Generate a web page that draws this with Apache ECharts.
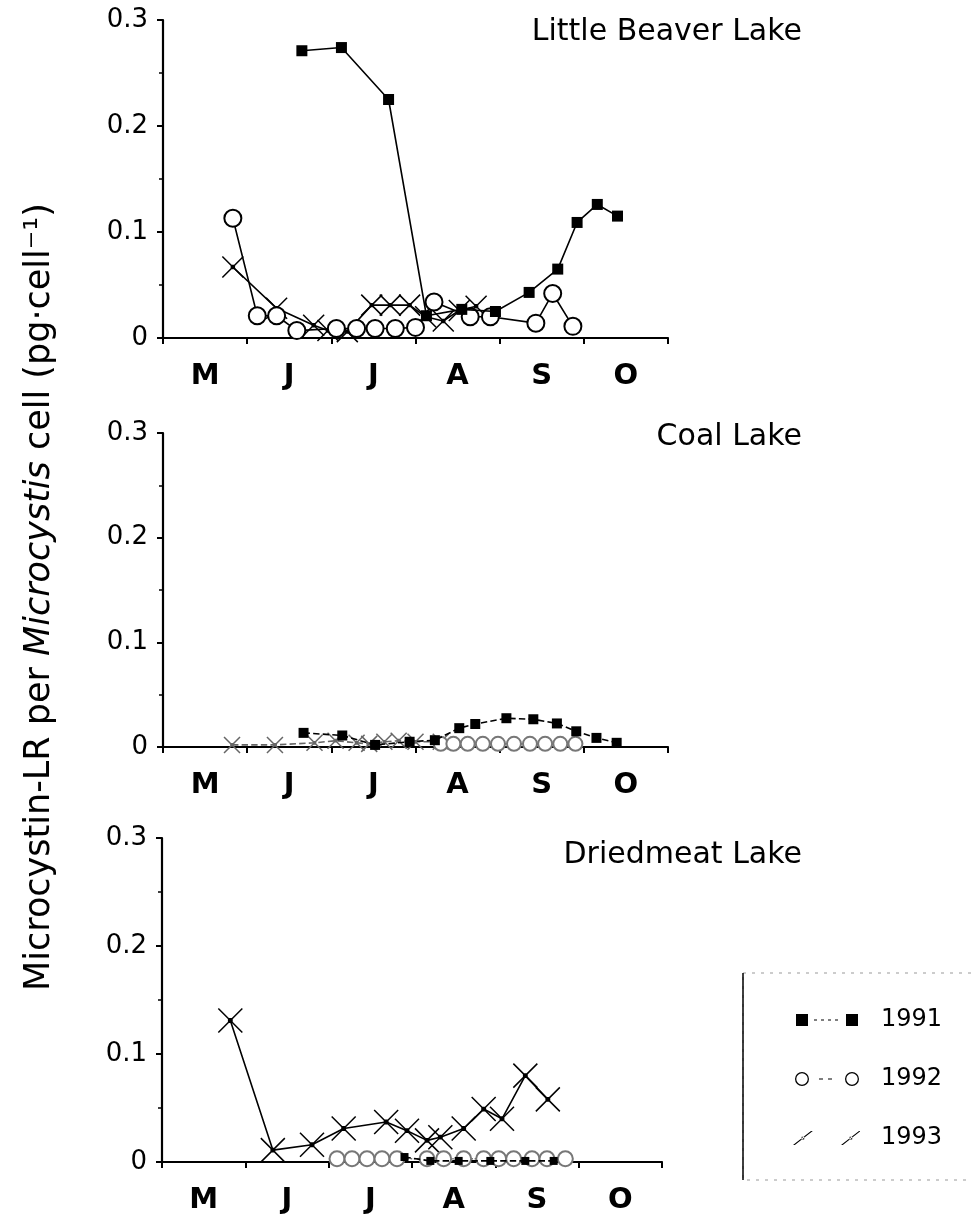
<!DOCTYPE html>
<html>
<head>
<meta charset="utf-8">
<title>Microcystin-LR per Microcystis cell</title>
<script src="https://cdn.jsdelivr.net/npm/echarts@6/dist/echarts.min.js"></script>
<style>
  html, body { margin: 0; padding: 0; background: #fff; }
  #chart { width: 972px; height: 1215px; }
</style>
</head>
<body>
<div id="chart"></div>
<script>
// Month initials, May through October; x values are months elapsed since 1 May.
const monthLabels = ['M', 'J', 'J', 'A', 'S', 'O'];
const lakeNames = ['Little Beaver Lake', 'Coal Lake', 'Driedmeat Lake'];
const yearNames = ['1991', '1992', '1993'];

// Little Beaver Lake, pg per cell
const beaver1991 = [[1.65,0.271],[2.12,0.274],[2.68,0.225],[3.13,0.021],[3.55,0.027],[3.95,0.025],[4.35,0.043],[4.69,0.065],[4.92,0.109],[5.16,0.126],[5.40,0.115]];
const beaver1992 = [[0.83,0.113],[1.12,0.021],[1.35,0.021],[1.59,0.007],[2.06,0.009],[2.30,0.009],[2.52,0.009],[2.76,0.009],[3.00,0.010],[3.22,0.034],[3.65,0.020],[3.89,0.020],[4.43,0.014],[4.63,0.042],[4.87,0.011]];
const beaver1993 = [[0.83,0.067],[1.35,0.028],[1.79,0.012],[1.96,0.007],[2.19,0.006],[2.48,0.031],[2.70,0.031],[2.93,0.031],[3.12,0.020],[3.33,0.016],[3.52,0.026],[3.72,0.030]];

// Coal Lake
const coal1991 = [[1.67,0.0135],[2.13,0.011],[2.52,0.002],[2.93,0.005],[3.23,0.0065],[3.52,0.018],[3.71,0.022],[4.08,0.0275],[4.40,0.0265],[4.68,0.0225],[4.91,0.015],[5.15,0.0087],[5.39,0.004]];
const coal1992 = [[3.30,0.003],[3.45,0.003],[3.62,0.003],[3.80,0.003],[3.98,0.003],[4.17,0.003],[4.36,0.003],[4.54,0.003],[4.72,0.003],[4.90,0.003]];
const coal1993 = [[0.82,0.002],[1.33,0.002],[1.80,0.004],[2.05,0.006],[2.30,0.004],[2.45,0.003],[2.63,0.005],[2.80,0.006],[3.00,0.005],[3.30,0.005]];

// Driedmeat Lake
const dried1991 = [[2.91,0.0046],[3.22,0.001],[3.56,0.001],[3.94,0.001],[4.36,0.001],[4.70,0.001]];
const dried1992 = [[2.10,0.003],[2.28,0.003],[2.46,0.003],[2.64,0.003],[2.82,0.003],[3.18,0.003],[3.38,0.003],[3.62,0.003],[3.86,0.003],[4.04,0.003],[4.22,0.003],[4.44,0.003],[4.62,0.003],[4.84,0.003]];
const dried1993 = [[0.82,0.131],[1.33,0.011],[1.80,0.016],[2.18,0.031],[2.69,0.037],[2.94,0.029],[3.18,0.020],[3.34,0.023],[3.62,0.031],[3.86,0.049],[4.08,0.040],[4.36,0.080],[4.63,0.058]];

const lakeData = [
  [beaver1991, beaver1992, beaver1993],
  [coal1991, coal1992, coal1993],
  [dried1991, dried1992, dried1993]
];

const FONT = 'DejaVu Sans';
const INK = '#000';

// cross marker with a small centre dot
const CROSS = 'path://M0,0L20,20M20,0L0,20M8.6,8.6h2.8v2.8h-2.8z';

// panel boxes (pixels)
const grids = [
  { left: 163, top: 20, width: 505, height: 318 },
  { left: 163, top: 433, width: 505, height: 314 },
  { left: 162, top: 838, width: 500, height: 327 }
];

// marker look per panel and year
const looks = [
  [ { sym: 'rect', size: 11, color: INK, line: 'solid' },
    { sym: 'emptyCircle', size: 17, color: INK, line: 'solid' },
    { sym: CROSS, size: 21, color: INK, line: 'solid' } ],
  [ { sym: 'rect', size: 10, color: INK, line: 'dashed' },
    { sym: 'emptyCircle', size: 14, color: '#777', line: 'dotted' },
    { sym: CROSS, size: 16, color: '#666', line: 'dashed' } ],
  [ { sym: 'rect', size: 8, color: INK, line: 'dashed' },
    { sym: 'emptyCircle', size: 15, color: '#777', line: 'dotted' },
    { sym: CROSS, size: 24, color: INK, line: 'solid' } ]
];

const xAxes = [];
const yAxes = [];
const series = [];
const titles = [];
const titleTops = [12, 417, 835];

grids.forEach((g, i) => {
  xAxes.push({
    type: 'value', gridIndex: i, min: 0, max: 6, interval: 1, position: 'bottom',
    axisLine: { show: true, lineStyle: { color: INK, width: 2.2 } },
    axisTick: { show: true, length: 6, lineStyle: { color: INK, width: 2 } },
    axisLabel: { show: false },
    splitLine: { show: false }
  });
  xAxes.push({
    type: 'category', gridIndex: i, data: monthLabels, boundaryGap: true, position: 'bottom',
    axisLine: { show: false }, axisTick: { show: false },
    axisLabel: { color: INK, fontFamily: FONT, fontSize: 29, fontWeight: 'bold', margin: 24 },
    splitLine: { show: false }
  });
  yAxes.push({
    type: 'value', gridIndex: i, min: 0, max: 0.3, interval: 0.1,
    axisLine: { show: true, lineStyle: { color: INK, width: 2.2 } },
    axisTick: { show: true, length: 6, lineStyle: { color: INK, width: 2 } },
    minorTick: { show: true, splitNumber: 2, length: 4, lineStyle: { color: INK, width: 1.5 } },
    axisLabel: {
      color: INK, fontFamily: FONT, fontSize: 26, margin: 15,
      formatter: v => (v === 0 ? '0' : v.toFixed(1))
    },
    splitLine: { show: false }
  });
  titles.push({
    text: lakeNames[i], right: 165, top: titleTops[i],
    textStyle: { color: INK, fontFamily: FONT, fontSize: 30, fontWeight: 'normal' }
  });
  // draw 1993, then 1992, then 1991 on top
  [2, 1, 0].forEach(k => {
    const lk = looks[i][k];
    series.push({
      name: yearNames[k],
      type: 'line',
      xAxisIndex: 2 * i,
      yAxisIndex: i,
      data: lakeData[i][k],
      symbol: lk.sym,
      symbolSize: lk.size,
      showAllSymbol: true,
      lineStyle: { color: lk.color, width: 1.6, type: lk.line },
      itemStyle: { color: lk.color, borderColor: lk.color, borderWidth: lk.sym === 'rect' ? 0 : 1.5 },
      z: 3 + (2 - k),
      animation: false
    });
  });
});

// legend icons: two markers joined by a broken line
const BOX = 'M0,0h0.01v0.01h-0.01z M68,16h-0.01v-0.01h0.01z ';
const icon1991 = 'path://' + BOX + 'M4,2h12v12h-12z M54,2h12v12h-12z M22,7.5h3v1h-3z M29,7.5h3v1h-3z M36,7.5h3v1h-3z M43,7.5h3v1h-3z';
const icon1992 = 'path://' + BOX +
  'M3,8a7,7 0 1,0 14,0a7,7 0 1,0 -14,0z M4.3,8a5.7,5.7 0 1,1 11.4,0a5.7,5.7 0 1,1 -11.4,0z ' +
  'M53,8a7,7 0 1,0 14,0a7,7 0 1,0 -14,0z M54.3,8a5.7,5.7 0 1,1 11.4,0a5.7,5.7 0 1,1 -11.4,0z ' +
  'M27,7.5h4v1h-4z M36,7.5h4v1h-4z';
const icon1993 = 'path://' + BOX +
  'M1,15L2.8,15L20.8,1L19,1z M9.6,6.8h2.6v2.6h-2.6z ' +
  'M49,15L50.8,15L68,1.6L68,1L67,1z M57.6,6.8h2.6v2.6h-2.6z';

const option = {
  backgroundColor: '#fff',
  animation: false,
  title: titles,
  grid: grids,
  xAxis: xAxes,
  yAxis: yAxes,
  series: series,
  legend: {
    orient: 'vertical',
    left: 787,
    top: 1003,
    itemWidth: 68,
    itemHeight: 16,
    itemGap: 35,
    selectedMode: false,
    itemStyle: { color: INK, borderWidth: 0 },
    textStyle: { color: INK, fontFamily: FONT, fontSize: 24, padding: [0, 0, 0, 16] },
    data: [
      { name: '1991', icon: icon1991 },
      { name: '1992', icon: icon1992 },
      { name: '1993', icon: icon1993 }
    ]
  },
  graphic: [
    {
      type: 'rect', z: 0, silent: true,
      shape: { x: 743, y: 973, width: 260, height: 207 },
      style: { fill: 'none', stroke: '#999', lineWidth: 1, lineDash: [3, 6] }
    },
    {
      type: 'line', z: 0, silent: true,
      shape: { x1: 743, y1: 973, x2: 743, y2: 1180 },
      style: { stroke: INK, lineWidth: 1.5 }
    },
    {
      type: 'text', silent: true,
      x: 40, y: 597, rotation: Math.PI / 2,
      style: {
        text: '{n|Microcystin-LR per }{i|Microcystis}{n| cell (pg·cell⁻¹)}',
        align: 'center', verticalAlign: 'middle',
        rich: {
          n: { fontFamily: FONT, fontSize: 35, fill: INK },
          i: { fontFamily: FONT, fontSize: 35, fontStyle: 'italic', fill: INK }
        }
      }
    }
  ]
};

const chart = echarts.init(document.getElementById('chart'), null, { renderer: 'canvas' });
chart.setOption(option);
</script>
</body>
</html>
